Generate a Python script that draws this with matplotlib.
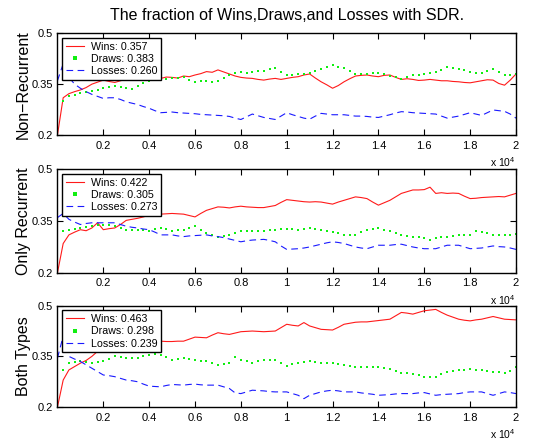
import matplotlib

matplotlib.use("Agg")
import matplotlib.pyplot as plt
import numpy as np

# x positions of the samples (games played)
steps = np.arange(0, 20001, 250)

panel_names = ["Non\u2212Recurrent", "Only Recurrent", "Both Types"]
legend_values = [
    (0.357, 0.383, 0.260),
    (0.422, 0.305, 0.273),
    (0.463, 0.298, 0.239),
]

nonrec_wins = [
    0.200, 0.310, 0.322, 0.328, 0.333, 0.340, 0.350, 0.356, 0.362, 0.358,
    0.355, 0.360, 0.365, 0.362, 0.372, 0.368, 0.370, 0.366, 0.367, 0.371,
    0.370, 0.368, 0.374, 0.372, 0.377, 0.381, 0.387, 0.385, 0.392, 0.386,
    0.380, 0.374, 0.370, 0.368, 0.367, 0.364, 0.362, 0.365, 0.367, 0.364,
    0.367, 0.370, 0.372, 0.377, 0.380, 0.368, 0.357, 0.348, 0.338, 0.346,
    0.357, 0.366, 0.374, 0.376, 0.377, 0.374, 0.372, 0.376, 0.377, 0.370,
    0.364, 0.366, 0.364, 0.361, 0.362, 0.364, 0.362, 0.360, 0.360, 0.358,
    0.357, 0.355, 0.354, 0.357, 0.360, 0.363, 0.362, 0.352, 0.347, 0.362,
    0.380,
]
nonrec_draws = [
    0.284, 0.300, 0.315, 0.318, 0.323, 0.327, 0.330, 0.334, 0.338, 0.342,
    0.345, 0.343, 0.340, 0.335, 0.345, 0.352, 0.360, 0.363, 0.365, 0.366,
    0.367, 0.369, 0.370, 0.362, 0.357, 0.358, 0.360, 0.357, 0.358, 0.368,
    0.378, 0.383, 0.385, 0.384, 0.385, 0.388, 0.390, 0.394, 0.397, 0.386,
    0.377, 0.378, 0.380, 0.381, 0.382, 0.388, 0.395, 0.402, 0.405, 0.402,
    0.397, 0.388, 0.380, 0.381, 0.380, 0.382, 0.384, 0.380, 0.375, 0.370,
    0.365, 0.372, 0.377, 0.378, 0.380, 0.383, 0.385, 0.393, 0.402, 0.398,
    0.395, 0.391, 0.387, 0.384, 0.382, 0.388, 0.394, 0.386, 0.376, 0.378,
    0.380,
]
nonrec_losses = [
    0.360, 0.410, 0.370, 0.350, 0.338, 0.328, 0.320, 0.314, 0.308, 0.310,
    0.310, 0.305, 0.298, 0.294, 0.290, 0.284, 0.279, 0.272, 0.266, 0.267,
    0.268, 0.266, 0.265, 0.264, 0.263, 0.261, 0.260, 0.259, 0.258, 0.257,
    0.255, 0.250, 0.246, 0.254, 0.262, 0.257, 0.252, 0.249, 0.246, 0.256,
    0.266, 0.260, 0.255, 0.250, 0.247, 0.256, 0.264, 0.262, 0.260, 0.260,
    0.260, 0.258, 0.256, 0.256, 0.255, 0.253, 0.252, 0.256, 0.260, 0.265,
    0.269, 0.268, 0.266, 0.265, 0.264, 0.263, 0.262, 0.256, 0.250, 0.253,
    0.256, 0.261, 0.266, 0.262, 0.258, 0.266, 0.274, 0.272, 0.270, 0.262,
    0.250,
]

onlyrec_wins = [
    0.200, 0.285, 0.310, 0.318, 0.325, 0.322, 0.330, 0.345, 0.325, 0.328,
    0.330, 0.340, 0.352, 0.355, 0.358, 0.362, 0.367, 0.368, 0.370, 0.371,
    0.372, 0.371, 0.370, 0.366, 0.362, 0.372, 0.381, 0.386, 0.391, 0.390,
    0.388, 0.391, 0.393, 0.391, 0.390, 0.389, 0.389, 0.392, 0.395, 0.404,
    0.412, 0.410, 0.408, 0.406, 0.405, 0.406, 0.405, 0.402, 0.399, 0.405,
    0.410, 0.415, 0.420, 0.418, 0.415, 0.405, 0.396, 0.403, 0.410, 0.420,
    0.430, 0.435, 0.440, 0.440, 0.441, 0.448, 0.430, 0.432, 0.430, 0.431,
    0.430, 0.422, 0.415, 0.416, 0.418, 0.419, 0.420, 0.421, 0.420, 0.425,
    0.430,
]
onlyrec_draws = [
    0.315, 0.320, 0.325, 0.328, 0.330, 0.332, 0.335, 0.338, 0.340, 0.338,
    0.335, 0.330, 0.325, 0.325, 0.325, 0.323, 0.322, 0.326, 0.330, 0.326,
    0.322, 0.324, 0.325, 0.330, 0.335, 0.325, 0.315, 0.310, 0.305, 0.308,
    0.310, 0.316, 0.322, 0.321, 0.320, 0.321, 0.322, 0.324, 0.325, 0.327,
    0.328, 0.326, 0.325, 0.328, 0.330, 0.328, 0.325, 0.321, 0.318, 0.314,
    0.310, 0.310, 0.310, 0.318, 0.325, 0.328, 0.330, 0.325, 0.320, 0.315,
    0.310, 0.307, 0.305, 0.303, 0.302, 0.296, 0.300, 0.303, 0.305, 0.308,
    0.310, 0.310, 0.310, 0.322, 0.318, 0.314, 0.310, 0.310, 0.310, 0.311,
    0.312,
]
onlyrec_losses = [
    0.360, 0.372, 0.355, 0.347, 0.340, 0.343, 0.345, 0.345, 0.345, 0.345,
    0.345, 0.340, 0.335, 0.332, 0.330, 0.327, 0.325, 0.318, 0.310, 0.310,
    0.310, 0.307, 0.305, 0.307, 0.308, 0.309, 0.310, 0.307, 0.305, 0.302,
    0.298, 0.294, 0.290, 0.293, 0.295, 0.296, 0.297, 0.294, 0.290, 0.278,
    0.268, 0.269, 0.270, 0.272, 0.275, 0.279, 0.283, 0.287, 0.290, 0.288,
    0.285, 0.280, 0.275, 0.272, 0.270, 0.275, 0.280, 0.280, 0.280, 0.282,
    0.283, 0.279, 0.275, 0.272, 0.270, 0.270, 0.270, 0.275, 0.280, 0.280,
    0.280, 0.275, 0.270, 0.271, 0.272, 0.275, 0.278, 0.276, 0.275, 0.272,
    0.268,
]

both_wins = [
    0.200, 0.280, 0.310, 0.320, 0.330, 0.338, 0.350, 0.365, 0.384, 0.372,
    0.364, 0.370, 0.375, 0.380, 0.385, 0.392, 0.399, 0.397, 0.395, 0.394,
    0.394, 0.395, 0.395, 0.401, 0.407, 0.406, 0.405, 0.413, 0.420, 0.417,
    0.415, 0.419, 0.423, 0.424, 0.425, 0.424, 0.423, 0.424, 0.425, 0.435,
    0.445, 0.442, 0.440, 0.450, 0.440, 0.435, 0.430, 0.429, 0.428, 0.436,
    0.445, 0.448, 0.451, 0.452, 0.452, 0.454, 0.456, 0.458, 0.460, 0.470,
    0.480, 0.478, 0.475, 0.480, 0.485, 0.487, 0.489, 0.480, 0.472, 0.466,
    0.460, 0.457, 0.455, 0.458, 0.460, 0.464, 0.468, 0.464, 0.460, 0.459,
    0.458,
]
both_draws = [
    0.290, 0.310, 0.330, 0.332, 0.335, 0.333, 0.330, 0.332, 0.335, 0.342,
    0.350, 0.348, 0.345, 0.345, 0.345, 0.350, 0.355, 0.356, 0.355, 0.348,
    0.340, 0.343, 0.345, 0.341, 0.338, 0.336, 0.335, 0.330, 0.325, 0.328,
    0.330, 0.348, 0.340, 0.335, 0.330, 0.335, 0.340, 0.339, 0.338, 0.330,
    0.323, 0.327, 0.330, 0.333, 0.335, 0.332, 0.330, 0.330, 0.330, 0.328,
    0.325, 0.322, 0.320, 0.320, 0.320, 0.319, 0.318, 0.315, 0.312, 0.307,
    0.302, 0.300, 0.298, 0.294, 0.290, 0.290, 0.290, 0.298, 0.305, 0.308,
    0.310, 0.311, 0.312, 0.311, 0.310, 0.308, 0.305, 0.303, 0.302, 0.308,
    0.318,
]
both_losses = [
    0.345, 0.410, 0.350, 0.342, 0.335, 0.325, 0.315, 0.305, 0.295, 0.293,
    0.290, 0.285, 0.280, 0.278, 0.275, 0.268, 0.262, 0.261, 0.260, 0.264,
    0.267, 0.266, 0.265, 0.267, 0.268, 0.266, 0.265, 0.265, 0.265, 0.260,
    0.255, 0.242, 0.240, 0.245, 0.250, 0.249, 0.248, 0.246, 0.245, 0.245,
    0.245, 0.240, 0.235, 0.225, 0.235, 0.240, 0.245, 0.248, 0.250, 0.248,
    0.245, 0.245, 0.245, 0.242, 0.240, 0.238, 0.235, 0.236, 0.237, 0.239,
    0.240, 0.240, 0.240, 0.242, 0.243, 0.239, 0.235, 0.237, 0.238, 0.239,
    0.240, 0.243, 0.245, 0.245, 0.245, 0.240, 0.235, 0.240, 0.245, 0.243,
    0.240,
]

panel_data = [
    (nonrec_wins, nonrec_draws, nonrec_losses),
    (onlyrec_wins, onlyrec_draws, onlyrec_losses),
    (both_wins, both_draws, both_losses),
]

x_ticks = np.arange(2000, 20001, 2000)
x_tick_labels = ["0.2", "0.4", "0.6", "0.8", "1", "1.2", "1.4", "1.6", "1.8", "2"]
y_ticks = [0.2, 0.35, 0.5]
y_tick_labels = ["0.2", "0.35", "0.5"]

plt.rcParams["font.family"] = ["Liberation Sans", "DejaVu Sans"]
plt.rcParams["mathtext.fontset"] = "custom"
plt.rcParams["mathtext.rm"] = "Liberation Sans"
plt.rcParams["mathtext.it"] = "Liberation Sans"


def draw_panel(ax, name, series, values):
    wins, draws, losses = series
    ax.plot(steps, wins, color="#ff1a1a", lw=0.8,
            label=f"Wins: {values[0]:.3f}")
    ax.plot(steps, draws, color="#11ee11", ls="none", marker="s", ms=2.0,
            mew=0, label=f"Draws: {values[1]:.3f}")
    ax.plot(steps, losses, color="#1a1aff", lw=0.8, ls=(0, (6, 4)),
            label=f"Losses: {values[2]:.3f}")

    ax.set_xlim(0, 20000)
    ax.set_ylim(0.2, 0.5)
    ax.set_xticks(x_ticks)
    ax.set_xticklabels(x_tick_labels)
    ax.set_yticks(y_ticks)
    ax.set_yticklabels(y_tick_labels)
    ax.tick_params(direction="in", top=True, right=True, length=4,
                   width=0.8, labelsize=8, pad=3)
    ax.tick_params(axis="x", pad=4)
    for sp in ax.spines.values():
        sp.set_linewidth(1.0)

    ax.set_ylabel(name, fontsize=11.5)
    ax.yaxis.set_label_coords(-0.058, 0.5)

    ax.text(1.0, -0.31, r"x 10$^{4}$", transform=ax.transAxes,
            ha="right", va="baseline", fontsize=7.5)

    leg = ax.legend(loc="upper left", fontsize=7.7, fancybox=False,
                    edgecolor="black", framealpha=1, numpoints=1,
                    handlelength=1.7, handletextpad=0.6, labelspacing=0.2,
                    borderpad=0.35, borderaxespad=0.45, markerscale=1.1)
    leg.get_frame().set_linewidth(1.0)


def main():
    fig = plt.figure(figsize=(5.42, 4.43), dpi=100)
    rects = [
        [0.106, 0.695, 0.846, 0.230],
        [0.106, 0.384, 0.846, 0.234],
        [0.106, 0.081, 0.846, 0.229],
    ]
    axes = [fig.add_axes(r) for r in rects]
    for ax, name, series, values in zip(axes, panel_names, panel_data,
                                        legend_values):
        draw_panel(ax, name, series, values)

    fig.text(0.529, 0.965, "The fraction of Wins,Draws,and Losses with SDR.",
             ha="center", va="center", fontsize=11.5)

    fig.savefig("out.png", dpi=100)
    plt.close(fig)


if __name__ == "__main__":
    main()
